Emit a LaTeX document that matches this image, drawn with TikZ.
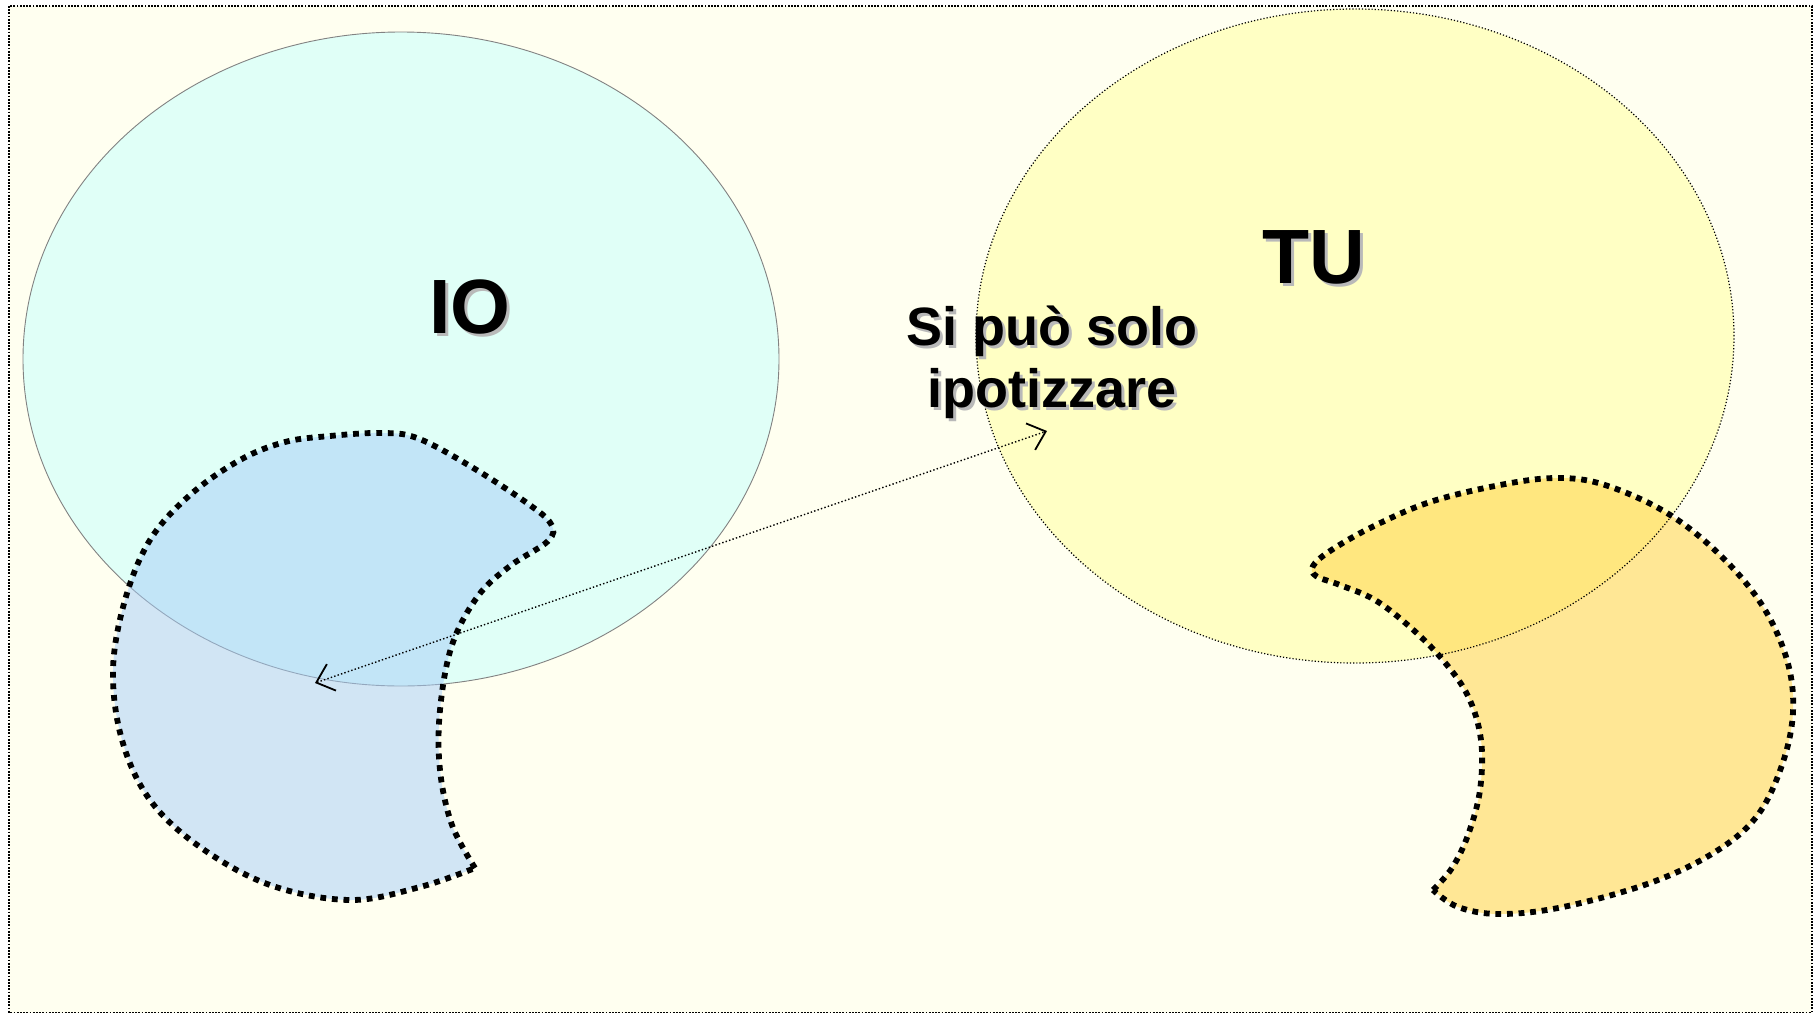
\documentclass[tikz,border=0pt]{standalone}
\usepackage{fontspec}
\setmainfont{Liberation Sans}
\usetikzlibrary{arrows.meta,shapes.geometric}
\definecolor{bgcream}{RGB}{255,255,240}
\definecolor{iofill}{RGB}{224,255,247}
\definecolor{tufill}{RGB}{255,255,196}
\definecolor{blueblob}{RGB}{165,205,248}
\definecolor{goldblob}{RGB}{255,208,60}
\definecolor{shadowgray}{RGB}{185,185,185}
\definecolor{iooutline}{RGB}{130,130,130}
\begin{document}
\begin{tikzpicture}[x=0.5pt,y=-0.5pt,
  framedots/.style={draw=black,line width=0.9pt,dash pattern=on 0.9pt off 0.7pt},
  ellbase/.style={ellipse,inner sep=0pt,outer sep=0pt},
  blobline/.style={draw=black,line width=2.9pt,dash pattern=on 2.9pt off 2.9pt,fill opacity=0.5},
  arrowline/.style={draw=black,line width=0.7pt,dash pattern=on 0.7pt off 1.1pt,
     {Straight Barb[length=8pt,width=14pt,line width=0.9pt]}-{Straight Barb[length=8pt,width=14pt,line width=0.9pt]}},
  bigtxt/.style={font=\bfseries\fontsize{38.5}{46}\selectfont,inner sep=0pt,anchor=base},
  labtxt/.style={font=\bfseries\fontsize{27}{31}\selectfont,inner sep=0pt,align=center,anchor=base},
  shadowed/.style={text=shadowgray}
]
\useasboundingbox (0,0) rectangle (1816,1013);
\fill[white] (0,0) rectangle (1816,1013);
\draw[framedots,fill=bgcream] (9,6) rectangle (1812,1012.5);

% IO ellipse
\node[ellbase,fill=iofill,draw=iooutline,line width=0.45pt,minimum width=378pt,minimum height=327pt] (ioell) at (401,359) {};
% left blob
\path[blobline,fill=blueblob] plot[smooth,tension=0.6] coordinates {
 (475,868) (452,825) (440,770) (440,710) (452,645) (478,596) (510,566) (548,541) (551,524)
 (527,503) (470,466) (417,438) (380,433) (330,436) (285,442) (240,460) (190,495) (150,540)
 (125,600) (113,670) (122,740) (150,800) (200,847) (270,885) (350,900) (420,887) (475,868)} -- cycle;

% TU ellipse
\node[ellbase,fill=tufill,minimum width=379pt,minimum height=327pt] (tuell) at (1355,336) {};
% right blob
\path[blobline,fill=goldblob] plot[smooth,tension=0.6] coordinates {
 (1433,890) (1452,868) (1468,835) (1480,790) (1481,740) (1468,696) (1442,659) (1410,627)
 (1375,600) (1340,585) (1316,576) (1313,566) (1330,551) (1372,527) (1430,502) (1500,485)
 (1557,478) (1605,485) (1667,513) (1720,555) (1762,605) (1787,660) (1793,712) (1782,765)
 (1757,816) (1715,852) (1650,883) (1563,907) (1500,914) (1458,907) (1433,890)} -- cycle;
\node[ellbase,draw=black,line width=0.6pt,dash pattern=on 0.6pt off 1pt,minimum width=379pt,minimum height=327pt] (tuline) at (1355,336) {};

% arrow
\coordinate (a1) at (315,683);
\coordinate (a2) at (1047,431);
\draw[arrowline] (a1) -- (a2);

% texts
\node[bigtxt,shadowed] (ioshadow) at (473,336) {IO};
\node[bigtxt] (iotext) at (470,333) {IO};
\node[bigtxt,shadowed] (tushadow) at (1317,286) {TU};
\node[bigtxt] (tutext) at (1314,283) {TU};
\node[labtxt,shadowed] (labshadow) at (1055,410) {Si può solo\\ipotizzare};
\node[labtxt] (labtext) at (1052,407) {Si può solo\\ipotizzare};
\end{tikzpicture}
\end{document}
